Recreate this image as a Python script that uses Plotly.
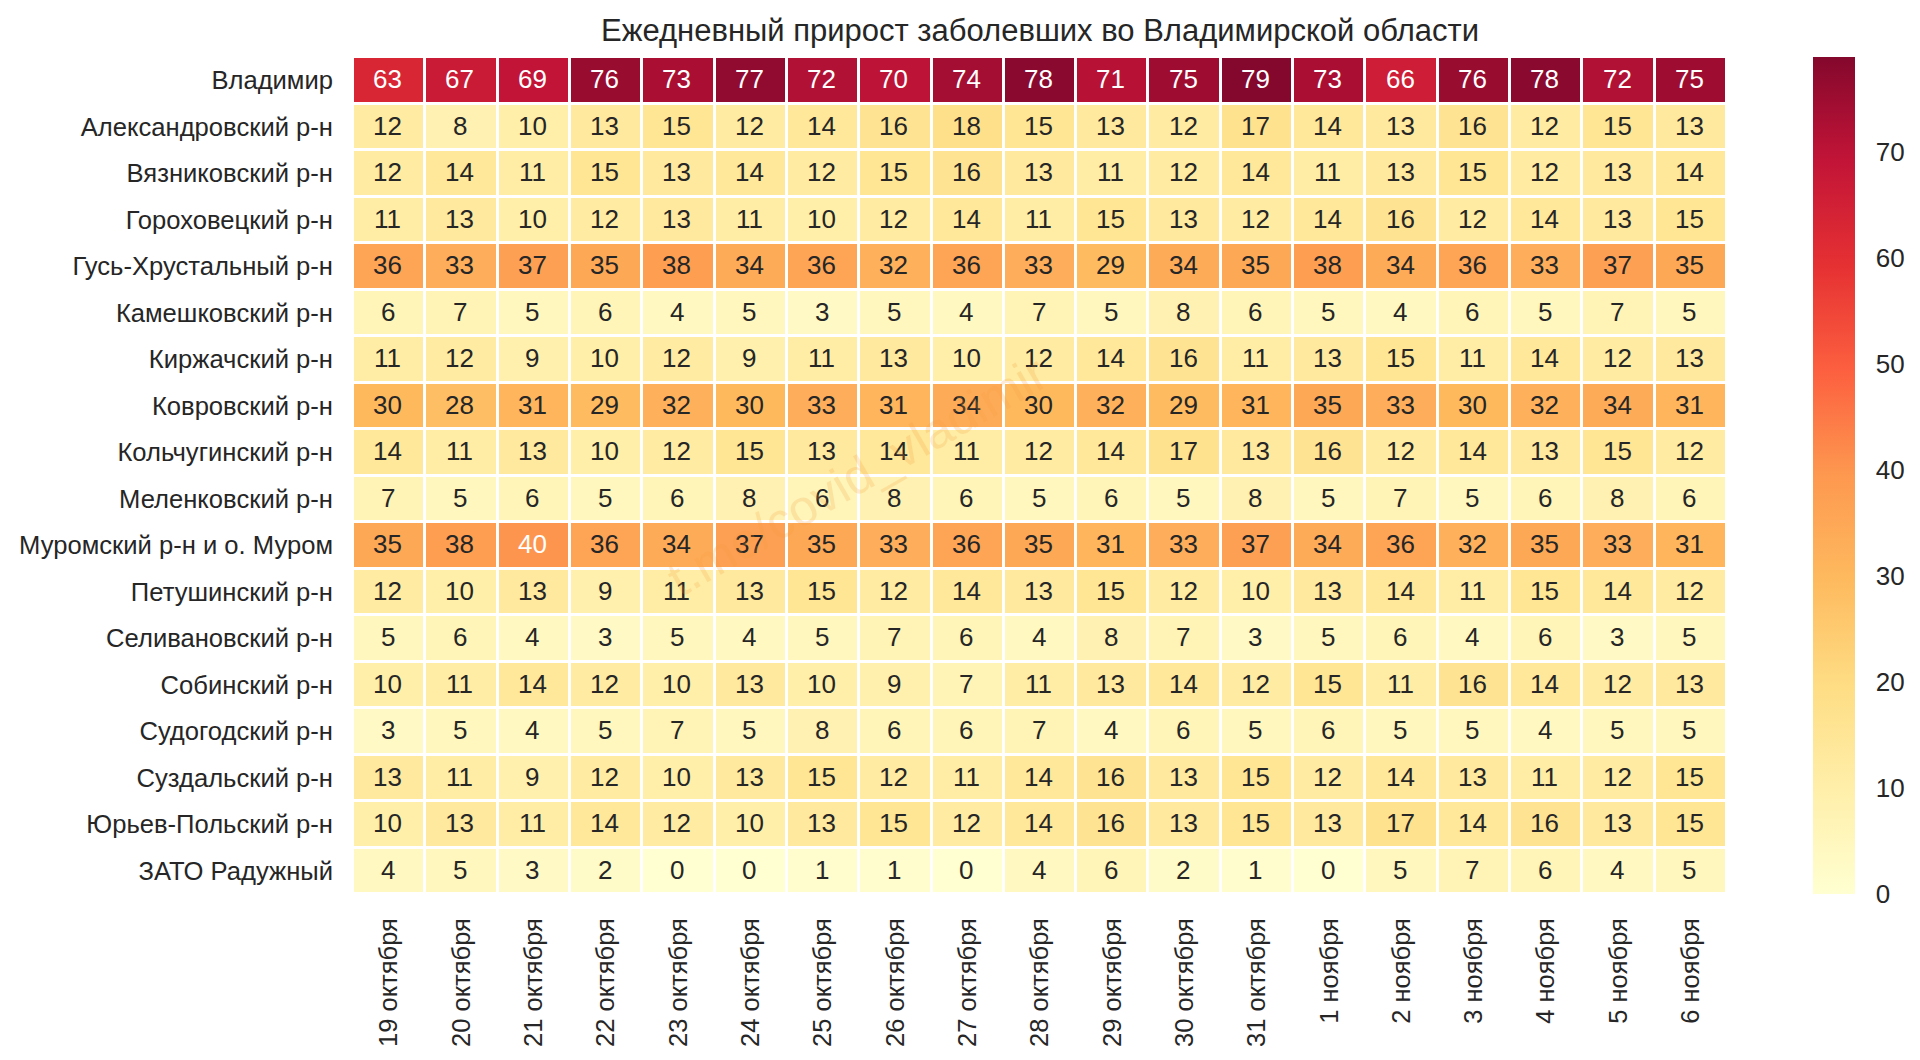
import plotly.graph_objects as go

# ==============================
# Data
# ==============================

dates = ["19 октября", "20 октября", "21 октября", "22 октября", "23 октября", "24 октября",
         "25 октября", "26 октября", "27 октября", "28 октября", "29 октября", "30 октября",
         "31 октября", "1 ноября", "2 ноября", "3 ноября", "4 ноября", "5 ноября", "6 ноября"]

districts = ["Владимир", "Александровский р-н", "Вязниковский р-н", "Гороховецкий р-н",
             "Гусь-Хрустальный р-н", "Камешковский р-н", "Киржачский р-н", "Ковровский р-н",
             "Кольчугинский р-н", "Меленковский р-н", "Муромский р-н и о. Муром",
             "Петушинский р-н", "Селивановский р-н", "Собинский р-н", "Судогодский р-н",
             "Суздальский р-н", "Юрьев-Польский р-н", "ЗАТО Радужный"]

vladimir = [63, 67, 69, 76, 73, 77, 72, 70, 74, 78, 71, 75, 79, 73, 66, 76, 78, 72, 75]
aleksandrov = [12, 8, 10, 13, 15, 12, 14, 16, 18, 15, 13, 12, 17, 14, 13, 16, 12, 15, 13]
vyazniki = [12, 14, 11, 15, 13, 14, 12, 15, 16, 13, 11, 12, 14, 11, 13, 15, 12, 13, 14]
gorokhovets = [11, 13, 10, 12, 13, 11, 10, 12, 14, 11, 15, 13, 12, 14, 16, 12, 14, 13, 15]
gus = [36, 33, 37, 35, 38, 34, 36, 32, 36, 33, 29, 34, 35, 38, 34, 36, 33, 37, 35]
kameshkovo = [6, 7, 5, 6, 4, 5, 3, 5, 4, 7, 5, 8, 6, 5, 4, 6, 5, 7, 5]
kirzhach = [11, 12, 9, 10, 12, 9, 11, 13, 10, 12, 14, 16, 11, 13, 15, 11, 14, 12, 13]
kovrov = [30, 28, 31, 29, 32, 30, 33, 31, 34, 30, 32, 29, 31, 35, 33, 30, 32, 34, 31]
kolchugino = [14, 11, 13, 10, 12, 15, 13, 14, 11, 12, 14, 17, 13, 16, 12, 14, 13, 15, 12]
melenki = [7, 5, 6, 5, 6, 8, 6, 8, 6, 5, 6, 5, 8, 5, 7, 5, 6, 8, 6]
murom = [35, 38, 40, 36, 34, 37, 35, 33, 36, 35, 31, 33, 37, 34, 36, 32, 35, 33, 31]
petushki = [12, 10, 13, 9, 11, 13, 15, 12, 14, 13, 15, 12, 10, 13, 14, 11, 15, 14, 12]
selivanovo = [5, 6, 4, 3, 5, 4, 5, 7, 6, 4, 8, 7, 3, 5, 6, 4, 6, 3, 5]
sobinka = [10, 11, 14, 12, 10, 13, 10, 9, 7, 11, 13, 14, 12, 15, 11, 16, 14, 12, 13]
sudogda = [3, 5, 4, 5, 7, 5, 8, 6, 6, 7, 4, 6, 5, 6, 5, 5, 4, 5, 5]
suzdal = [13, 11, 9, 12, 10, 13, 15, 12, 11, 14, 16, 13, 15, 12, 14, 13, 11, 12, 15]
yuryev = [10, 13, 11, 14, 12, 10, 13, 15, 12, 14, 16, 13, 15, 13, 17, 14, 16, 13, 15]
raduzhny = [4, 5, 3, 2, 0, 0, 1, 1, 0, 4, 6, 2, 1, 0, 5, 7, 6, 4, 5]

rows = [vladimir, aleksandrov, vyazniki, gorokhovets, gus, kameshkovo, kirzhach, kovrov,
        kolchugino, melenki, murom, petushki, selivanovo, sobinka, sudogda, suzdal, yuryev,
        raduzhny]

# YlOrRd with the slight transparency of the original
ylorrd = [(255, 255, 204), (255, 237, 160), (254, 217, 118), (254, 178, 76), (253, 141, 60),
          (252, 78, 42), (227, 26, 28), (189, 0, 38), (128, 0, 38)]
alphas = [0.9, 0.9, 0.9, 0.9, 0.9, 0.9, 0.9, 0.92, 0.97]
colorscale = [[i / 8, f"rgba({c[0]},{c[1]},{c[2]},{a})"]
              for i, (c, a) in enumerate(zip(ylorrd, alphas))]

FONT = "Liberation Sans, Arial, sans-serif"
DARK = "#262626"

# ==============================
# Figure
# ==============================

fig = go.Figure(go.Heatmap(
    z=rows, x=dates, y=districts,
    zmin=0, zmax=79,
    colorscale=colorscale,
    xgap=3, ygap=3,
    hoverongaps=False,
    colorbar=dict(
        x=1.0626, xref="paper", xanchor="left", xpad=0,
        y=0, yref="paper", yanchor="bottom", ypad=0,
        len=1, thickness=42,
        outlinewidth=0,
        tickvals=[0, 10, 20, 30, 40, 50, 60, 70],
        ticks="outside", ticklen=16, tickcolor="white",
        tickfont=dict(family=FONT, size=26, color=DARK),
    ),
))

# cell labels, white on the darkest cells
annotations = []
for name, row in zip(districts, rows):
    for date, value in zip(dates, row):
        annotations.append(dict(
            x=date, y=name, text=str(value), showarrow=False, xshift=-1.5, yshift=1,
            font=dict(family=FONT, size=26, color="white" if value >= 40 else DARK),
        ))

# watermark
annotations.append(dict(
    xref="paper", yref="paper", x=0.367, y=0.5,
    text="t.me/covid_vladimir", textangle=-30, showarrow=False,
    font=dict(family=FONT, size=50, color="#f59a3c"),
    opacity=0.2,
))

fig.update_layout(
    width=1912, height=1052,
    margin=dict(l=345, r=1912 - 1719, t=49, b=1052 - 886.5, pad=0, autoexpand=False),
    paper_bgcolor="white", plot_bgcolor="white",
    title=dict(
        text="Ежедневный прирост заболевших во Владимирской области",
        x=0.5, xref="paper", xanchor="center",
        y=1 - 22 / 1052, yref="container", yanchor="middle",
        font=dict(family=FONT, size=31, color=DARK),
    ),
    annotations=annotations,
)

fig.update_xaxes(
    type="category", tickangle=-90, showgrid=False, zeroline=False, showline=False,
    ticklabelstandoff=18, ticks="",
    tickfont=dict(family=FONT, size=25.5, color=DARK),
)
fig.update_yaxes(
    type="category", autorange="reversed", showgrid=False, zeroline=False, showline=False,
    ticklabelstandoff=19, ticks="",
    tickfont=dict(family=FONT, size=25.6, color=DARK),
)

fig.write_html("out.html")
